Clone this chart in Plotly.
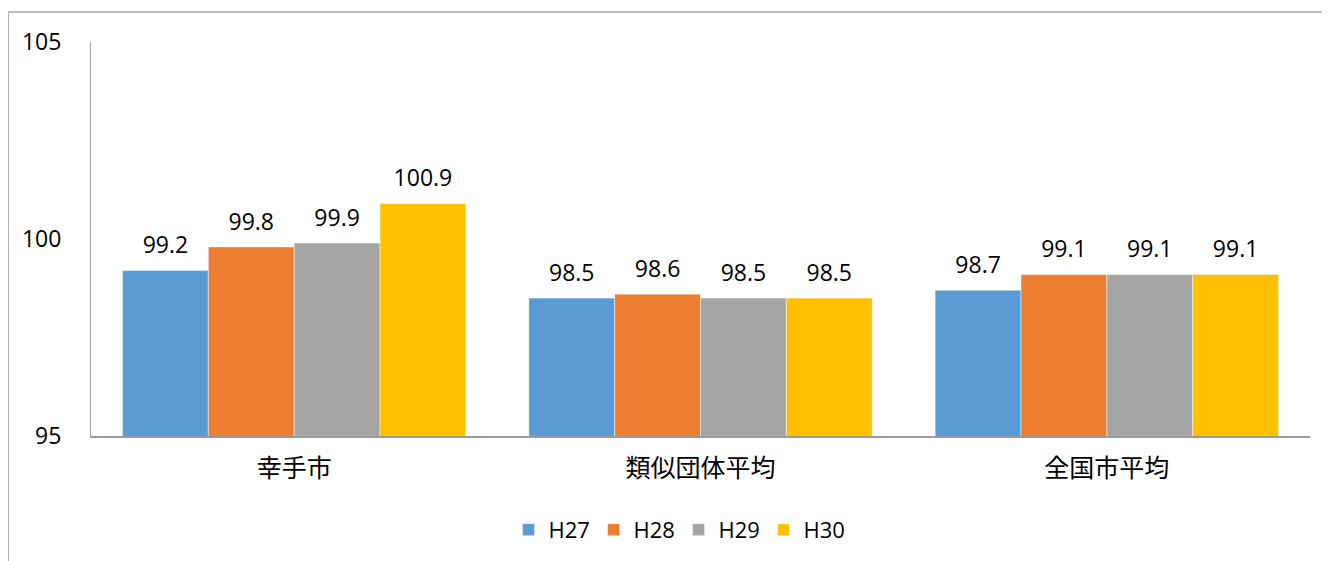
import plotly.graph_objects as go

categories = ["幸手市", "類似団体平均", "全国市平均"]
series_names = ["H27", "H28", "H29", "H30"]
h27 = [99.2, 98.5, 98.7]
h28 = [99.8, 98.6, 99.1]
h29 = [99.9, 98.5, 99.1]
h30 = [100.9, 98.5, 99.1]
y_ticks = [95, 100, 105]

series_values = [h27, h28, h29, h30]
colors = ["#5B9BD5", "#ED7D31", "#A5A5A5", "#FFC000"]

FONT = "Open Sans, Noto Sans CJK JP, sans-serif"

fig = go.Figure()
for i, (name, vals) in enumerate(zip(series_names, series_values)):
    fig.add_trace(go.Bar(
        x=categories, y=vals, name=name,
        marker=dict(color=colors[i], line=dict(color="rgba(255,255,255,0.6)", width=0.8)),
        offsetgroup=str(i), alignmentgroup="a",
    ))
for i, (name, vals) in enumerate(zip(series_names, series_values)):
    fig.add_trace(go.Scatter(
        x=categories, y=vals, mode="markers+text",
        text=[f"{v:.1f}" for v in vals], textposition="top center",
        textfont=dict(family=FONT, size=23, color="#000000"),
        marker=dict(size=17, opacity=0),
        offsetgroup=str(i), alignmentgroup="a",
        showlegend=False, hoverinfo="skip", cliponaxis=False,
    ))

fig.update_layout(
    width=1322, height=553,
    margin=dict(l=83, r=20, t=34, b=124),
    paper_bgcolor="white", plot_bgcolor="white",
    barmode="group", bargap=0.155, bargroupgap=0,
    scattermode="group", scattergap=0.155,
    font=dict(family=FONT, color="#000000"),
    showlegend=True,
    legend=dict(
        orientation="h", x=0.482, xanchor="center", y=-0.235, yanchor="middle",
        font=dict(family=FONT, size=22, color="#000000"),
        entrywidth=40, traceorder="normal",
    ),
)
fig.update_yaxes(
    range=[95, 105], tickvals=y_ticks, ticktext=[str(t) for t in y_ticks],
    showgrid=False, zeroline=False,
    showline=True, linecolor="#A6A6A6", linewidth=1,
    ticks="", ticklabelstandoff=24,
    tickfont=dict(family=FONT, size=23, color="#000000"),
)
fig.update_xaxes(
    showgrid=False, zeroline=False,
    showline=True, linecolor="#9A9A9A", linewidth=2,
    ticks="", ticklabelstandoff=9,
    tickfont=dict(family=FONT, size=25, color="#000000"),
)
fig.add_shape(
    type="rect", xref="paper", yref="paper",
    x0=-0.068, x1=1.1, y0=-0.6, y1=1.076,
    line=dict(color="#A6A6A6", width=1.5), fillcolor="rgba(0,0,0,0)", layer="below",
)

fig.write_html("out.html")
